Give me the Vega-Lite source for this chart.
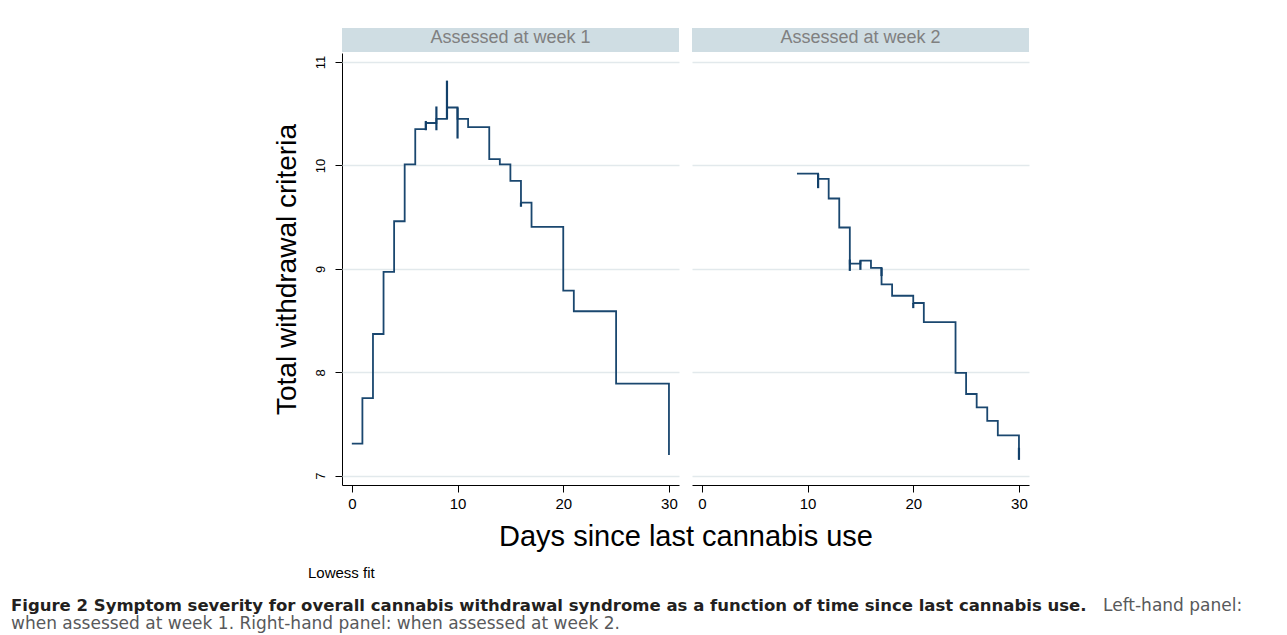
{
  "$schema": "https://vega.github.io/schema/vega-lite/v6.json",
  "background": "white",
  "padding": {"left": 11, "top": 28, "right": 5, "bottom": 5},
  "config": {
    "font": "Liberation Sans",
    "view": {"stroke": null},
    "axis": {"domainColor": "#000000", "tickColor": "#000000", "labelColor": "#000000", "titleColor": "#000000", "labelFont": "Liberation Sans", "titleFont": "Liberation Sans", "titleFontWeight": "normal"}
  },
  "datasets": {
    "series": [
      {"panel": "Assessed at week 1", "kind": "step", "day": 0, "value": 7.31},
      {"panel": "Assessed at week 1", "kind": "step", "day": 1, "value": 7.75},
      {"panel": "Assessed at week 1", "kind": "step", "day": 2, "value": 8.37},
      {"panel": "Assessed at week 1", "kind": "step", "day": 3, "value": 8.97},
      {"panel": "Assessed at week 1", "kind": "step", "day": 4, "value": 9.46},
      {"panel": "Assessed at week 1", "kind": "step", "day": 5, "value": 10.01},
      {"panel": "Assessed at week 1", "kind": "step", "day": 6, "value": 10.35},
      {"panel": "Assessed at week 1", "kind": "step", "day": 7, "value": 10.41},
      {"panel": "Assessed at week 1", "kind": "step", "day": 8, "value": 10.45},
      {"panel": "Assessed at week 1", "kind": "step", "day": 9, "value": 10.56},
      {"panel": "Assessed at week 1", "kind": "step", "day": 10, "value": 10.45},
      {"panel": "Assessed at week 1", "kind": "step", "day": 11, "value": 10.37},
      {"panel": "Assessed at week 1", "kind": "step", "day": 13, "value": 10.06},
      {"panel": "Assessed at week 1", "kind": "step", "day": 14, "value": 10.01},
      {"panel": "Assessed at week 1", "kind": "step", "day": 15, "value": 9.85},
      {"panel": "Assessed at week 1", "kind": "step", "day": 16, "value": 9.64},
      {"panel": "Assessed at week 1", "kind": "step", "day": 17, "value": 9.405},
      {"panel": "Assessed at week 1", "kind": "step", "day": 20, "value": 8.79},
      {"panel": "Assessed at week 1", "kind": "step", "day": 21, "value": 8.59},
      {"panel": "Assessed at week 1", "kind": "step", "day": 25, "value": 7.89},
      {"panel": "Assessed at week 1", "kind": "step", "day": 30, "value": 7.2},
      {"panel": "Assessed at week 1", "kind": "mark", "day": 7, "value": 10.43, "value2": 10.34},
      {"panel": "Assessed at week 1", "kind": "mark", "day": 8, "value": 10.57, "value2": 10.34},
      {"panel": "Assessed at week 1", "kind": "mark", "day": 9, "value": 10.82, "value2": 10.45},
      {"panel": "Assessed at week 1", "kind": "mark", "day": 10, "value": 10.56, "value2": 10.26},
      {"panel": "Assessed at week 1", "kind": "mark", "day": 16, "value": 9.64, "value2": 9.6},
      {"panel": "Assessed at week 2", "kind": "step", "day": 9, "value": 9.92},
      {"panel": "Assessed at week 2", "kind": "step", "day": 11, "value": 9.87},
      {"panel": "Assessed at week 2", "kind": "step", "day": 12, "value": 9.68},
      {"panel": "Assessed at week 2", "kind": "step", "day": 13, "value": 9.4},
      {"panel": "Assessed at week 2", "kind": "step", "day": 14, "value": 9.05},
      {"panel": "Assessed at week 2", "kind": "step", "day": 15, "value": 9.08},
      {"panel": "Assessed at week 2", "kind": "step", "day": 16, "value": 9.01},
      {"panel": "Assessed at week 2", "kind": "step", "day": 17, "value": 8.85},
      {"panel": "Assessed at week 2", "kind": "step", "day": 18, "value": 8.74},
      {"panel": "Assessed at week 2", "kind": "step", "day": 20, "value": 8.67},
      {"panel": "Assessed at week 2", "kind": "step", "day": 21, "value": 8.485},
      {"panel": "Assessed at week 2", "kind": "step", "day": 24, "value": 7.995},
      {"panel": "Assessed at week 2", "kind": "step", "day": 25, "value": 7.79},
      {"panel": "Assessed at week 2", "kind": "step", "day": 26, "value": 7.66},
      {"panel": "Assessed at week 2", "kind": "step", "day": 27, "value": 7.53},
      {"panel": "Assessed at week 2", "kind": "step", "day": 28, "value": 7.39},
      {"panel": "Assessed at week 2", "kind": "step", "day": 30, "value": 7.155},
      {"panel": "Assessed at week 2", "kind": "mark", "day": 11, "value": 9.92, "value2": 9.78},
      {"panel": "Assessed at week 2", "kind": "mark", "day": 14, "value": 9.09, "value2": 8.98},
      {"panel": "Assessed at week 2", "kind": "mark", "day": 15, "value": 9.08, "value2": 8.99},
      {"panel": "Assessed at week 2", "kind": "mark", "day": 17, "value": 9.01, "value2": 8.93},
      {"panel": "Assessed at week 2", "kind": "mark", "day": 20, "value": 8.67, "value2": 8.62},
      {"panel": "Assessed at week 2", "kind": "mark", "day": 30, "value": 7.27, "value2": 7.155}
    ]
  },
  "vconcat": [
    {
      "spacing": 1,
      "vconcat": [
        {
          "data": {"values": [{"panel": "Assessed at week 1"}, {"panel": "Assessed at week 2"}]},
          "facet": {"column": {"field": "panel", "type": "nominal", "header": null}},
          "spacing": 13,
          "spec": {
            "width": 337,
            "height": 24,
            "view": {"fill": "#cfdde3", "stroke": null},
            "mark": {"type": "text", "fontSize": 18, "color": "#808080", "font": "Liberation Sans", "dy": -2},
            "encoding": {"text": {"field": "panel", "type": "nominal"}}
          }
        },
        {
          "data": {"name": "series"},
          "facet": {
            "column": {
              "field": "panel",
              "type": "nominal",
              "header": {
                "labels": false,
                "title": "Days since last cannabis use",
                "titleOrient": "bottom",
                "titleFontSize": 29,
                "titleFontWeight": "normal",
                "titleColor": "#000000",
                "titleFont": "Liberation Sans",
                "titlePadding": 2
              }
            }
          },
          "spacing": 13,
          "spec": {
            "width": 337,
            "height": 432,
            "layer": [
              {
                "transform": [{"filter": "datum.kind === 'step'"}],
                "mark": {"type": "line", "interpolate": "step-after", "color": "#1a476f", "strokeWidth": 1.8},
                "encoding": {
                  "x": {
                    "field": "day",
                    "type": "quantitative",
                    "scale": {"domain": [-0.93, 30.95], "nice": false, "zero": false},
                    "axis": {"values": [0, 10, 20, 30], "grid": false, "title": null, "tickSize": 7, "labelFontSize": 15, "labelPadding": 4, "labelAngle": 0, "labelFlush": false}
                  },
                  "y": {
                    "field": "value",
                    "type": "quantitative",
                    "scale": {"domain": [6.91, 11.087], "nice": false, "zero": false},
                    "axis": {"values": [7, 8, 9, 10, 11], "format": "d", "grid": true, "gridColor": "#e2e9ec", "gridWidth": 1.3, "title": "Total withdrawal criteria", "titleFontSize": 28, "titlePadding": 13, "labelAngle": -90, "labelFontSize": 13, "labelPadding": 8, "tickSize": 7, "labelAlign": "center", "labelBaseline": "bottom"}
                  }
                }
              },
              {
                "transform": [{"filter": "datum.kind === 'mark'"}],
                "mark": {"type": "rule", "color": "#12406a", "strokeWidth": 2.2},
                "encoding": {
                  "x": {"field": "day", "type": "quantitative"},
                  "y": {"field": "value", "type": "quantitative"},
                  "y2": {"field": "value2"}
                }
              }
            ]
          }
        }
      ]
    },
    {
      "width": 900,
      "height": 85,
      "data": {"values": [{"note": "Lowess fit", "line1": "Figure 2 Symptom severity for overall cannabis withdrawal syndrome as a function of time since last cannabis use.", "line1b": "Left-hand panel:", "line2": "when assessed at week 1. Right-hand panel: when assessed at week 2."}]},
      "layer": [
        {
          "mark": {"type": "text", "align": "left", "baseline": "alphabetic", "fontSize": 15, "font": "Liberation Sans", "color": "#000000"},
          "encoding": {"text": {"field": "note"}, "x": {"value": -34}, "y": {"value": 26}}
        },
        {
          "mark": {"type": "text", "align": "left", "baseline": "alphabetic", "fontSize": 16.5, "font": "DejaVu Sans", "fontWeight": "bold", "color": "#231f20"},
          "encoding": {"text": {"field": "line1"}, "x": {"value": -331}, "y": {"value": 59}}
        },
        {
          "mark": {"type": "text", "align": "left", "baseline": "alphabetic", "fontSize": 17, "font": "DejaVu Sans", "color": "#58595b"},
          "encoding": {"text": {"field": "line1b"}, "x": {"value": 761}, "y": {"value": 59}}
        },
        {
          "mark": {"type": "text", "align": "left", "baseline": "alphabetic", "fontSize": 17, "font": "DejaVu Sans", "color": "#58595b"},
          "encoding": {"text": {"field": "line2"}, "x": {"value": -331}, "y": {"value": 77}}
        }
      ]
    }
  ],
  "spacing": 0
}
